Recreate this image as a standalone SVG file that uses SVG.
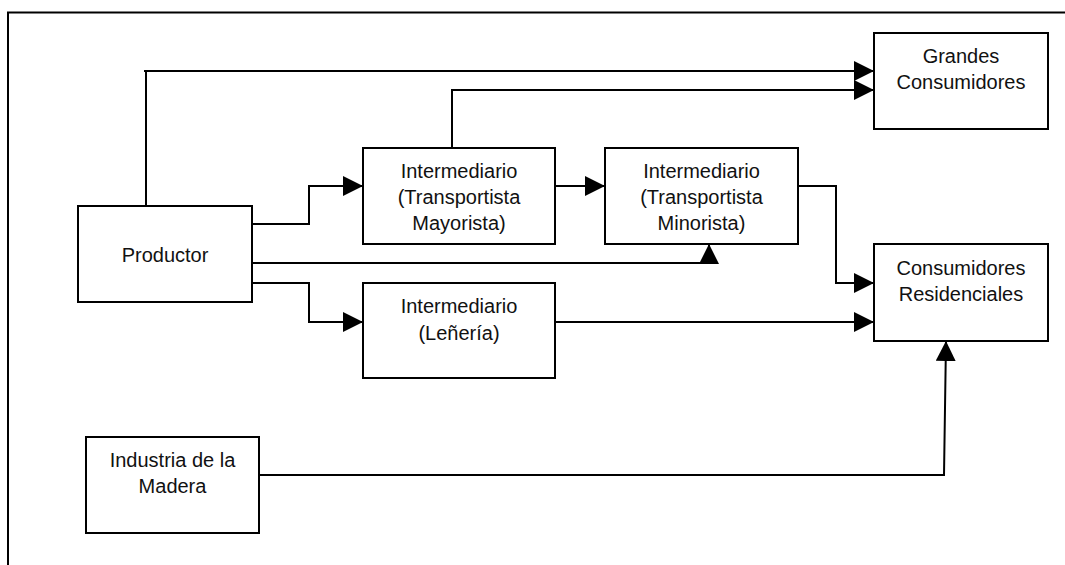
<svg xmlns="http://www.w3.org/2000/svg" width="1065" height="565" viewBox="0 0 1065 565">
<defs>
<style>
.box{fill:#fff;stroke:#000;stroke-width:2}
.ln{fill:none;stroke:#000;stroke-width:2}
.arr{marker-end:url(#ah)}
text{font-family:"Liberation Sans",Arial,sans-serif;font-size:20px;fill:#111;text-anchor:middle}
</style>
<marker id="ah" markerUnits="userSpaceOnUse" markerWidth="20" markerHeight="20" refX="20" refY="10" orient="auto" viewBox="0 0 20 20">
<path d="M0,0 L20,10 L0,20 Z" fill="#000"/>
</marker>
</defs>
<rect width="1065" height="565" fill="#fff"/>
<g id="frame">
<path class="ln" d="M1065,12.5 L8,12.5 L8,565"/>
</g>
<g id="connectors">
<path class="ln arr" d="M146,206 L146,71 L144,71 L874,71"/>
<path class="ln arr" d="M452,148 L452,90 L874,90"/>
<path class="ln arr" d="M252,224 L309,224 L309,186 L363,186"/>
<path class="ln arr" d="M555,186 L605,186"/>
<path class="ln arr" d="M247,263 L709,263 L709,244"/>
<path class="ln arr" d="M252,283 L309,283 L309,322 L363,322"/>
<path class="ln arr" d="M798,186 L836,186 L836,283 L874,283"/>
<path class="ln arr" d="M555,322 L874,322"/>
<path class="ln arr" d="M259,475 L944,475 L946,341"/>
</g>
<g id="productor">
<rect class="box" x="78" y="206" width="174" height="96"/>
<text x="165" y="262">Productor</text>
</g>
<g id="grandes">
<rect class="box" x="874" y="33" width="174" height="96"/>
<text x="961" y="63">Grandes</text>
<text x="961" y="89">Consumidores</text>
</g>
<g id="mayorista">
<rect class="box" x="363" y="148" width="192" height="96"/>
<text x="459" y="178">Intermediario</text>
<text x="459" y="204">(Transportista</text>
<text x="459" y="230">Mayorista)</text>
</g>
<g id="minorista">
<rect class="box" x="605" y="148" width="193" height="96"/>
<text x="701.5" y="178">Intermediario</text>
<text x="701.5" y="204">(Transportista</text>
<text x="701.5" y="230">Minorista)</text>
</g>
<g id="residenciales">
<rect class="box" x="874" y="244" width="174" height="97"/>
<text x="961" y="275">Consumidores</text>
<text x="961" y="301">Residenciales</text>
</g>
<g id="lenieria">
<rect class="box" x="363" y="283" width="192" height="95"/>
<text x="459" y="313">Intermediario</text>
<text x="459" y="340">(Leñería)</text>
</g>
<g id="industria">
<rect class="box" x="86" y="437" width="173" height="96"/>
<text x="172.5" y="467">Industria de la</text>
<text x="172.5" y="493">Madera</text>
</g>
</svg>
